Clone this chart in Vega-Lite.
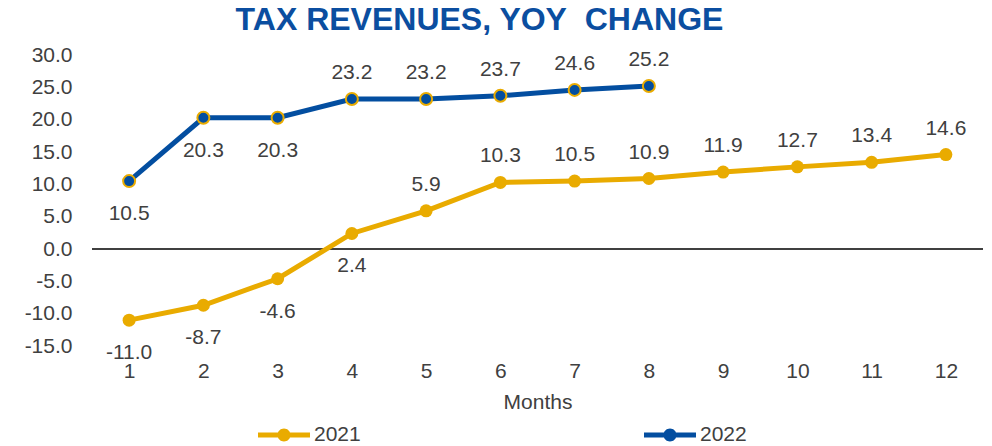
{
  "$schema": "https://vega.github.io/schema/vega-lite/v6.json",
  "width": 891,
  "height": 291,
  "autosize": {"type": "none"},
  "padding": {"left": 92, "top": 55, "right": 9, "bottom": 100},
  "background": "white",
  "config": {
    "view": {"stroke": null},
    "font": "Liberation Sans",
    "locale": {"number": {"decimal": ".", "thousands": ",", "grouping": [3], "currency": ["$", ""], "minus": "-"}}
  },
  "title": {
    "text": "TAX REVENUES, YOY\u00a0 CHANGE",
    "font": "Liberation Sans",
    "fontSize": 32,
    "fontWeight": "bold",
    "color": "#0B4EA0",
    "anchor": "middle",
    "frame": "group",
    "dx": -58,
    "offset": 7
  },
  "data": {
    "values": [
      {"month": 1, "series": "2021", "value": -11.0},
      {"month": 2, "series": "2021", "value": -8.7},
      {"month": 3, "series": "2021", "value": -4.6},
      {"month": 4, "series": "2021", "value": 2.4},
      {"month": 5, "series": "2021", "value": 5.9},
      {"month": 6, "series": "2021", "value": 10.3},
      {"month": 7, "series": "2021", "value": 10.5},
      {"month": 8, "series": "2021", "value": 10.9},
      {"month": 9, "series": "2021", "value": 11.9},
      {"month": 10, "series": "2021", "value": 12.7},
      {"month": 11, "series": "2021", "value": 13.4},
      {"month": 12, "series": "2021", "value": 14.6},
      {"month": 1, "series": "2022", "value": 10.5},
      {"month": 2, "series": "2022", "value": 20.3},
      {"month": 3, "series": "2022", "value": 20.3},
      {"month": 4, "series": "2022", "value": 23.2},
      {"month": 5, "series": "2022", "value": 23.2},
      {"month": 6, "series": "2022", "value": 23.7},
      {"month": 7, "series": "2022", "value": 24.6},
      {"month": 8, "series": "2022", "value": 25.2}
    ]
  },
  "encoding": {
    "x": {
      "field": "month",
      "type": "ordinal",
      "scale": {"type": "point", "padding": 0.5},
      "axis": {
        "title": "Months",
        "labelAngle": 0,
        "domain": false,
        "ticks": false,
        "grid": false,
        "labelFontSize": 21,
        "labelColor": "#404040",
        "labelPadding": 14,
        "titleFontSize": 21,
        "titleFontWeight": "normal",
        "titleColor": "#404040",
        "titlePadding": 10
      }
    },
    "y": {
      "field": "value",
      "type": "quantitative",
      "scale": {"domain": [-15, 30], "nice": false, "zero": false},
      "axis": {
        "title": null,
        "values": [-15, -10, -5, 0, 5, 10, 15, 20, 25, 30],
        "format": ".1f",
        "domain": false,
        "ticks": false,
        "grid": false,
        "labelFontSize": 21,
        "labelColor": "#404040",
        "labelPadding": 20
      }
    }
  },
  "layer": [
    {
      "mark": {"type": "rule", "color": "#404040", "strokeWidth": 1.5},
      "encoding": {"y": {"datum": 0}, "x": null}
    },
    {
      "mark": {"type": "line", "strokeWidth": 5},
      "encoding": {
        "color": {
          "field": "series",
          "type": "nominal",
          "scale": {"domain": ["2021", "2022"], "range": ["#E9AB00", "#034EA0"]},
          "legend": {
            "title": null,
            "orient": "none",
            "legendX": 166,
            "legendY": 354,
            "direction": "horizontal",
            "columns": 2,
            "columnPadding": 283,
            "symbolType": "M-1,-0.1H1V0.1H-1Z M-0.25,0A0.25,0.25 0 1 1 0.25,0A0.25,0.25 0 1 1 -0.25,0Z",
            "symbolSize": 2704,
            "symbolStrokeWidth": 0,
            "symbolOpacity": 1,
            "labelFontSize": 21,
            "labelColor": "#404040",
            "labelOffset": 4,
            "encode": {
              "symbols": {
                "update": {
                  "fill": {"scale": "color", "field": "value"},
                  "fillOpacity": {"value": 1}
                }
              }
            }
          }
        }
      }
    },
    {
      "transform": [{"filter": "datum.series == '2021'"}],
      "mark": {"type": "point", "shape": "circle", "filled": true, "fill": "#E9AB00", "opacity": 1, "size": 169}
    },
    {
      "transform": [{"filter": "datum.series == '2022'"}],
      "mark": {"type": "point", "shape": "circle", "filled": true, "fill": "#034EA0", "stroke": "#E9AB00", "strokeWidth": 2, "opacity": 1, "size": 144}
    },
    {
      "transform": [{"filter": "(datum.series == '2022' && datum.month >= 4) || (datum.series == '2021' && datum.month >= 5)"}],
      "mark": {"type": "text", "fontSize": 21, "color": "#404040", "baseline": "middle", "dy": -26},
      "encoding": {"text": {"field": "value", "type": "quantitative", "format": ".1f"}}
    },
    {
      "transform": [{"filter": "(datum.series == '2022' && datum.month < 4) || (datum.series == '2021' && datum.month < 5)"}],
      "mark": {"type": "text", "fontSize": 21, "color": "#404040", "baseline": "middle", "dy": 33},
      "encoding": {"text": {"field": "value", "type": "quantitative", "format": ".1f"}}
    }
  ]
}
